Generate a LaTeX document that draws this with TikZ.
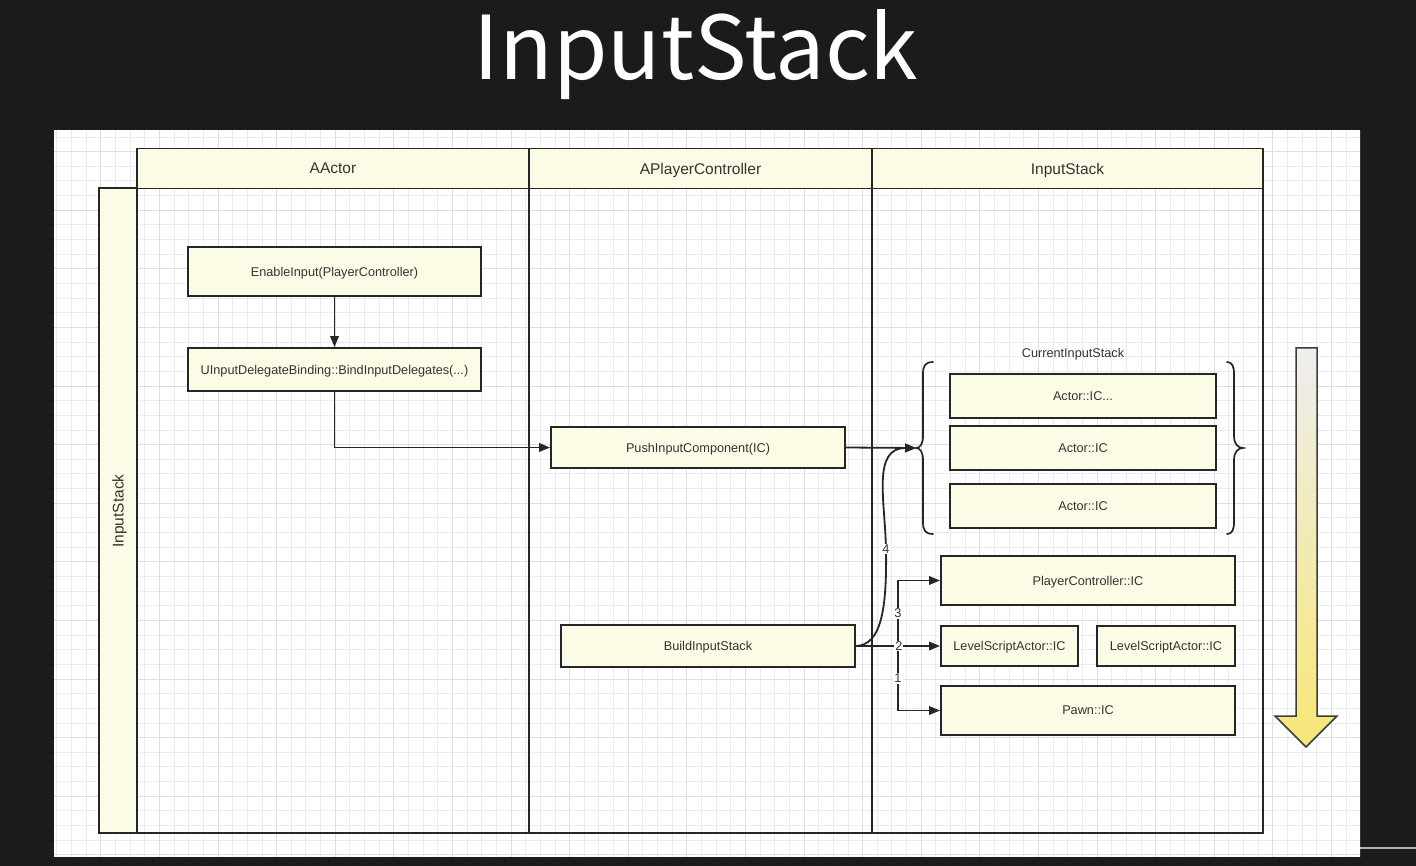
\documentclass[tikz,border=0pt]{standalone}
\usepackage{fontspec}
\setmainfont{Liberation Sans}
\newfontfamily\titlefont{Noto Sans CJK SC}
\usetikzlibrary{arrows.meta}
\definecolor{bgdark}{RGB}{27,27,28}
\definecolor{cream}{RGB}{252,252,230}
\definecolor{lineC}{RGB}{38,38,38}
\definecolor{txtC}{RGB}{51,51,51}
\definecolor{gridminor}{RGB}{236,236,236}
\definecolor{gridmajor}{RGB}{222,222,222}
\definecolor{arrowtop}{RGB}{238,238,238}
\definecolor{arrowbot}{RGB}{247,230,118}
\begin{document}
\begin{tikzpicture}[x=1pt,y=-1pt,
  box/.style={draw=lineC, line width=1.9pt, fill=cream, text=txtC, inner sep=0pt, text depth=0pt,
    font=\fontsize{12.7}{14}\selectfont},
  hdr/.style={draw=lineC, line width=1.9pt, fill=cream, text=txtC, inner sep=0pt, text depth=0pt,
    font=\fontsize{15.5}{17}\selectfont},
  lanebody/.style={draw=lineC, line width=1.9pt, inner sep=0pt},
  conn/.style={draw=lineC, line width=1.8pt, -{Triangle[length=11pt,width=8.5pt]}},
  lbl/.style={fill=white, inner sep=1pt, text=txtC, text depth=0pt, font=\fontsize{12.7}{14}\selectfont},
  plain/.style={text=txtC, inner sep=0pt, text depth=0pt, font=\fontsize{12.7}{14}\selectfont},
  bracestyle/.style={draw=lineC, line width=1.7pt, line cap=round}
]
\useasboundingbox (0,0) rectangle (1416,866);
\fill[bgdark] (0,0) rectangle (1416,866);
% video artefacts
\draw[gray!60, line width=2.5pt] (1360,848) -- (1416,848);
% panel
\fill[white] (54,130) rectangle (1360,857);
\begin{scope}
  \clip (54,130) rectangle (1360,857);
  \foreach \i in {0,...,90} {\draw[gridminor, line width=1pt] ({round(41.8+14.65*\i)+0.5},130) -- ++(0,727);}
  \foreach \j in {0,...,52} {\draw[gridminor, line width=1pt] (54,{round(92.6+14.65*\j)+0.5}) -- ++(1306,0);}
  \foreach \i in {0,...,23} {\draw[gridmajor, line width=1pt] ({round(41.8+58.6*\i)+0.5},130) -- ++(0,727);}
  \foreach \j in {0,...,13} {\draw[gridmajor, line width=1pt] (54,{round(92.6+58.6*\j)+0.5}) -- ++(1306,0);}
\end{scope}
% title
\node[font=\titlefont\fontsize{88}{90}\selectfont, text=white, anchor=base, inner sep=0pt] (title) at (696,80) {InputStack};
% lanes
\node[lanebody, minimum width=392pt, minimum height=645pt] (bodyA) at (333,510.5) {};
\node[lanebody, minimum width=343pt, minimum height=645pt] (bodyP) at (700.5,510.5) {};
\node[lanebody, minimum width=391pt, minimum height=645pt] (bodyI) at (1067.5,510.5) {};
\node[hdr, minimum width=38pt, minimum height=645pt] (side) at (118,510.5) {};
\node[text=txtC, rotate=90, inner sep=0pt, text depth=0pt, font=\fontsize{15.5}{17}\selectfont] (sidelbl) at (118,511) {InputStack};
\node[hdr, minimum width=392pt, minimum height=40pt] (hA) at (333,168.5) {AActor};
\node[hdr, minimum width=343pt, minimum height=40pt] (hP) at (700.5,168.5) {APlayerController};
\node[hdr, minimum width=391pt, minimum height=40pt] (hI) at (1067.5,168.5) {InputStack};
% boxes
\node[box, minimum width=293pt, minimum height=49pt] (enable) at (334.5,271.5) {EnableInput(PlayerController)};
\node[box, minimum width=293pt, minimum height=43pt] (bind) at (334.5,369.5) {UInputDelegateBinding::BindInputDelegates(...)};
\node[box, minimum width=294pt, minimum height=41pt] (push) at (698,447.5) {PushInputComponent(IC)};
\node[box, minimum width=294pt, minimum height=42pt] (build) at (708,646) {BuildInputStack};
\node[plain] (cislbl) at (1073,353) {CurrentInputStack};
\node[box, minimum width=266pt, minimum height=44pt] (ic1) at (1083,396) {Actor::IC...};
\node[box, minimum width=266pt, minimum height=44pt] (ic2) at (1083,448) {Actor::IC};
\node[box, minimum width=266pt, minimum height=44pt] (ic3) at (1083,506) {Actor::IC};
\node[box, minimum width=294pt, minimum height=49pt] (pcic) at (1088,580.5) {PlayerController::IC};
\node[box, minimum width=137pt, minimum height=40pt] (lsa1) at (1009.5,646) {LevelScriptActor::IC};
\node[box, minimum width=138pt, minimum height=40pt] (lsa2) at (1166,646) {LevelScriptActor::IC};
\node[box, minimum width=294pt, minimum height=49pt] (pawn) at (1088,710.5) {Pawn::IC};
% braces
\coordinate (bl) at (916,448);
\draw[bracestyle] (933,362) .. controls (925,362) and (923,366) .. (923,374) -- (923,436)
  .. controls (923,444) and (920,448) .. (bl)
  .. controls (920,448) and (923,452) .. (923,460) -- (923,522)
  .. controls (923,530) and (925,534) .. (933,534);
\draw[bracestyle] (1227,362) .. controls (1232,362) and (1234,366) .. (1234,374) -- (1234,436)
  .. controls (1234,444) and (1238,448) .. (1243,448)
  .. controls (1238,448) and (1234,452) .. (1234,460) -- (1234,522)
  .. controls (1234,530) and (1232,534) .. (1227,534);
% big arrow
\shade[top color=arrowtop, bottom color=arrowbot, draw=lineC!90, line width=1.5pt, line join=miter]
  (1296,348) -- (1317,348) -- (1317,716) -- (1337,716) -- (1306,747) -- (1275,716) -- (1296,716) -- cycle;
% connectors
\draw[conn] (enable.south) -- (bind.north);
\draw[conn] (bind.south) |- (push.west);
\draw[conn] (push.east) -- (bl);
\coordinate (j) at (898,646);
\draw[conn] (build.east) -- (j) |- node[lbl, pos=0.25] {3} (pcic.west);
\draw[conn] (build.east) -- (j) |- node[lbl, pos=0.25] {1} (pawn.west);
\draw[conn] (build.east) -- node[lbl, pos=0.51] {2} (lsa1.west);
\draw[conn] (build.east) .. controls (881,645) and (887,610) .. (886,549) node[lbl] {4}
  .. controls (885,500) and (872,448) .. (bl);
\end{tikzpicture}
\end{document}
